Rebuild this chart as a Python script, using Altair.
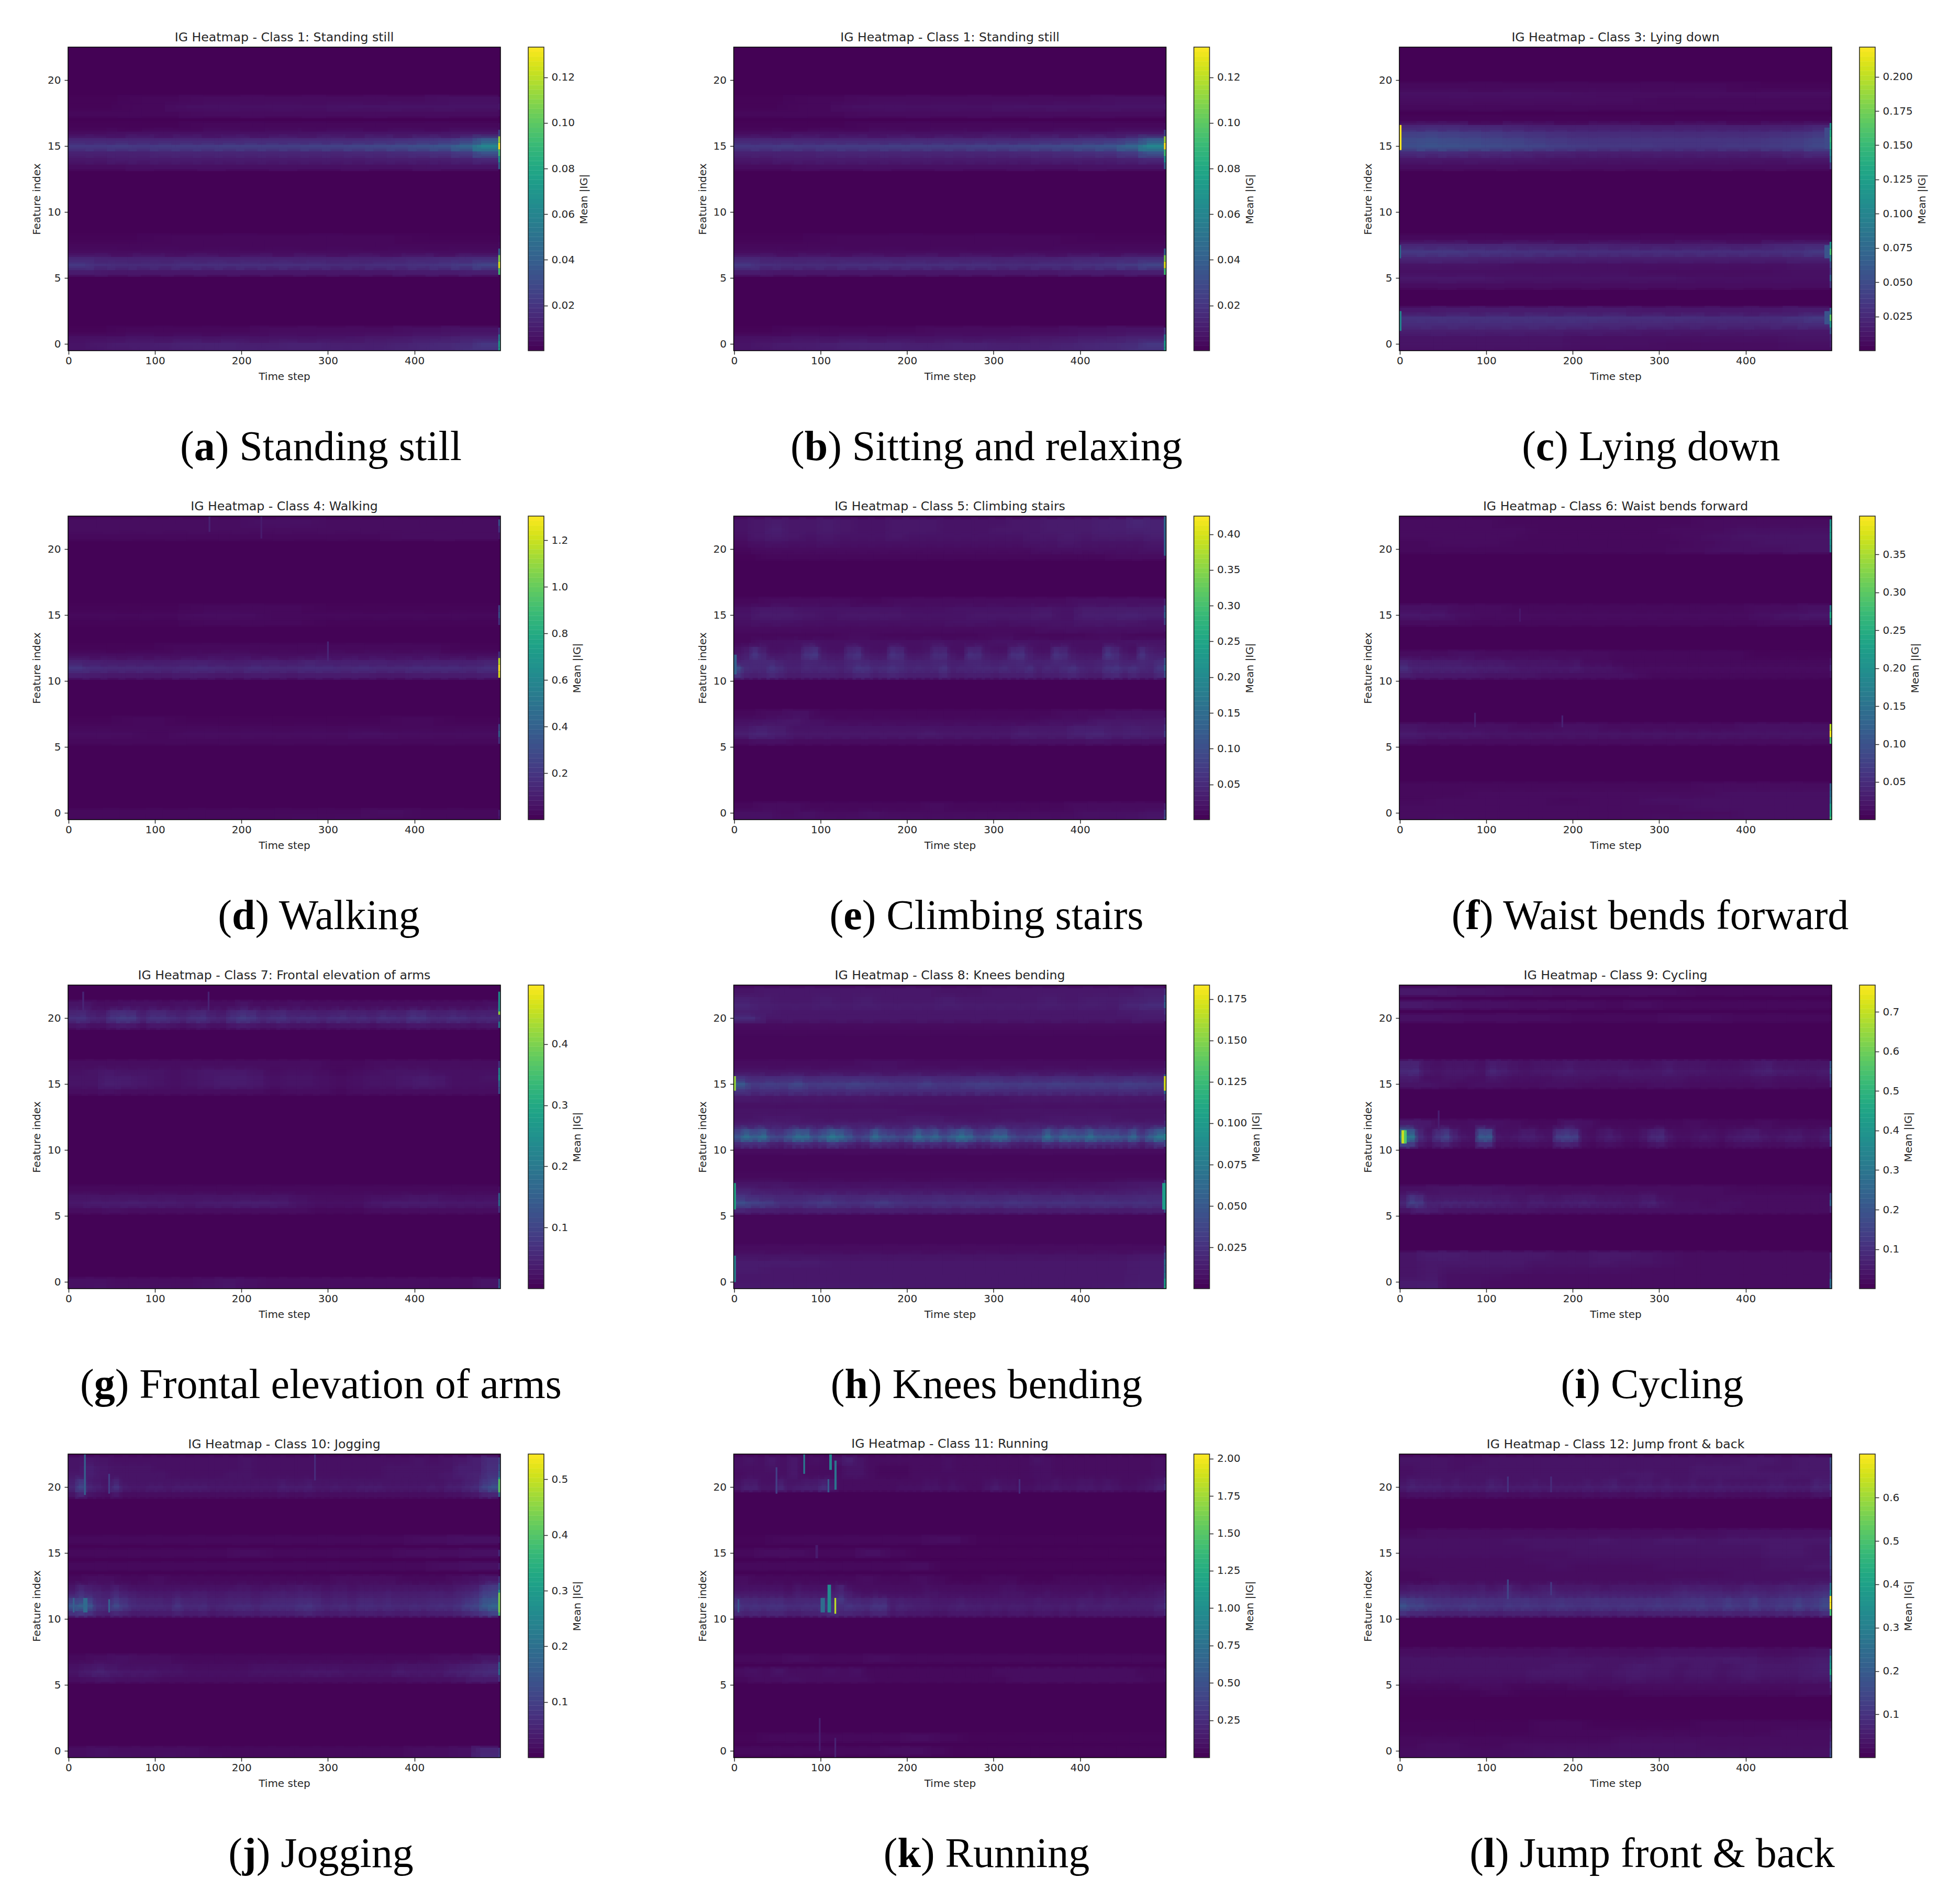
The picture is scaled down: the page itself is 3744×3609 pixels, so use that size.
import numpy as np
import altair as alt

PLOT_W, PLOT_H = 826, 580
CB_X0, CB_X1 = 879, 909
CAP_CENTER, CAP_BASE, CAP_SIZE = 483, 788.5, 80
BOLD_W = dict(a=.5, b=.556, c=.444, d=.556, e=.444, f=.333, g=.5, h=.556, i=.278, j=.333, k=.556, l=.278)
ROMAN_W = {" ": .25, ")": .333, "&": .778, "S": .556, "W": .944, "L": .611, "C": .667, "F": .556, "K": .722, "J": .389, "R": .667,
           "a": .444, "b": .5, "c": .444, "d": .5, "e": .444, "f": .333, "g": .5, "h": .5, "i": .278, "j": .278, "k": .5, "l": .278,
           "m": .778, "n": .5, "o": .5, "p": .5, "r": .333, "s": .389, "t": .278, "u": .5, "v": .5, "w": .722, "x": .5, "y": .5, "z": .444}

TITLES = ["IG Heatmap - Class 1: Standing still", "IG Heatmap - Class 1: Standing still", "IG Heatmap - Class 3: Lying down",
          "IG Heatmap - Class 4: Walking", "IG Heatmap - Class 5: Climbing stairs", "IG Heatmap - Class 6: Waist bends forward",
          "IG Heatmap - Class 7: Frontal elevation of arms", "IG Heatmap - Class 8: Knees bending", "IG Heatmap - Class 9: Cycling",
          "IG Heatmap - Class 10: Jogging", "IG Heatmap - Class 11: Running", "IG Heatmap - Class 12: Jump front & back"]
LETTERS = list("abcdefghijkl")
CAPTIONS = ["Standing still", "Sitting and relaxing", "Lying down", "Walking", "Climbing stairs", "Waist bends forward",
            "Frontal elevation of arms", "Knees bending", "Cycling", "Jogging", "Running", "Jump front & back"]
VMAX = [.1332, .1332, .2216, 1.304, .4253, .4005, .4964, .1834, .7678, .5455, 2.03, .7005]
VMIN = [.0002, .0002, .0001, .0003, .0007, .0003, .0002, .0001, .0002, .0002, .001, .0002]
CB_TICKS = [[.02, .04, .06, .08, .10, .12], [.02, .04, .06, .08, .10, .12],
            [.025, .05, .075, .1, .125, .15, .175, .2], [.2, .4, .6, .8, 1.0, 1.2],
            [.05, .1, .15, .2, .25, .3, .35, .4], [.05, .1, .15, .2, .25, .3, .35],
            [.1, .2, .3, .4], [.025, .05, .075, .1, .125, .15, .175],
            [.1, .2, .3, .4, .5, .6, .7], [.1, .2, .3, .4, .5],
            [.25, .5, .75, 1.0, 1.25, 1.5, 1.75, 2.0], [.1, .2, .3, .4, .5, .6]]
CB_FMT = [".2f", ".2f", ".3f", ".1f", ".2f", ".2f", ".1f", ".3f", ".1f", ".1f", ".2f", ".1f"]
BG = [.5, .5, .3, .5, .6, .5, .5, 1.5, .5, .6, .5, .6]

# Heat values, percent of each panel's maximum. Key: feature position; list: evenly spaced time
# bins over the record, the last entry being the far-right edge column.
ROWS_A = {
    15: [16,16,17,16,17,17,17,18,18,18,18,19,19,20,21,22,24,26,32,46,100],
    15.5: [10,10,10,10,10,10,10,10,11,11,11,11,11,11,12,13,14,15,18,28,85],
    14.5: [9,9,9,9,10,10,10,10,10,10,10,10,10,11,11,12,13,14,17,26,70],
    14: [6,6,7,7,7,7,7,7,7,7,7,7,7,7,8,8,8,8,9,11,50],
    13.5: [3,4,4,4,4,5,30], 16: [3,4,4,4,4,5,5,5,6,20], 16.5: [1,1,2,2,2,2,2,3],
    17.5: [2,2,3,3,3,3,3,3], 18: [1,2,4,4,4,5,5,5,6], 18.5: [1,2,3,3,3,3,4,4],
    6: [16,13,12,12,12,13,13,13,13,13,13,13,12,12,13,13,14,15,17,20,95],
    6.5: [10,9,9,9,9,9,9,9,9,9,10,11,12,80], 5.5: [7,6,6,6,6,6,6,6,6,6,7,7,8,70],
    7: [3,3,3,3,3,3,3,3,30], 7.5: [2,2,2,2,2,2,2,3], 8: [1,2,2,2,1,2],
    0: [5,6,7,7,8,9,9,9,8,8,9,9,8,8,8,9,10,11,12,16,55],
    -0.5: [5,6,7,8,9,9,9,9,9,10,11,14,55], 0.5: [4,5,5,5,5,5,6,7,9,40], 1: [1,2,2,2,3,3,3,4,5,15],
}
SPOTS_A = []
ROWS_C = {
    15: [23,25,24,23,22,21,20,18,17,16,16,16,15,15,15,16,16,17,18,21,60],
    15.5: [22,23,22,21,20,19,17,16,15,15,15,15,15,15,15,15,15,16,17,20,65],
    16: [18,19,18,17,16,15,14,13,12,12,12,12,12,12,12,12,12,13,14,16,60],
    16.5: [10,11,11,10,10,9,8,8,8,8,8,8,8,8,8,8,8,8,8,10,50],
    14.5: [12,12,12,11,11,10,9,9,8,8,8,8,8,8,8,8,8,9,10,12,45],
    14: [6,6,6,6,5,5,5,5,5,5,5,6,35], 13.5: [3,3,3,3,3,3,3,3,15], 17: [1,1,1,1,1,2],
    18.5: [3,3,3,3,2,2,2,2], 19: [4,4,4,3,3,3,3,3], 18: [2,2,2,2,2,2], 19.5: [2,2,2,2,1,1],
    7: [16,16,16,15,15,14,14,14,13,13,13,13,13,13,13,13,13,13,14,16,70],
    7.5: [10,10,10,10,9,9,9,8,8,8,8,8,10,11,50], 6.5: [10,10,9,9,8,8,8,8,8,8,8,9,40],
    6: [5,5,5,4,4,4,4,4,4,4,4,5,20], 5.5: [4,4,4,4,4,3,3,3,4,15], 5: [6,6,5,5,5,5,4,4,4,30],
    4.5: [3,3,3,3,3,3,3,3,3,15], 8: [2,2,2,2,2,2],
    2: [14,14,14,14,14,14,14,14,14,14,13,13,13,13,12,12,12,12,14,16,75],
    1.5: [12,12,12,12,12,12,12,11,11,11,10,10,10,10,11,12,50], 2.5: [6,7,7,7,7,7,6,6,6,6,7,35],
    1: [8,8,8,8,7,7,6,6,6,6,6,25], 0.5: [5,5,5,5,4,4,4,4,4,5,10], 0: [5,5,5,5,4,4,3,3,3,4,8],
    -0.5: [4,4,4,4,3,3,3,3,3,3,5],
}
SPOTS_C = [(-0.5, 2, 14.7, 16.6, 100), (-0.5, 2, 1, 2.5, 45), (-0.5, 1.5, 6.5, 7.5, 35),
           (491, 497, 6.5, 7.5, 26), (491, 497, 1.5, 2.5, 26), (491, 497, 14.8, 16.4, 22)]
ROWS_D = {
    11: [15,12,11,11,11,10,11,12,11,10,12,11,11,12,12,11,12,11,11,12,12,12,11,13,100],
    11.5: [9,8,7,7,7,7,8,8,7,7,8,8,7,9,8,8,8,8,7,8,8,8,8,9,90],
    10.5: [8,7,6,6,6,6,7,7,6,6,7,7,6,7,7,7,7,6,6,7,7,7,7,8,95],
    12: [3,3,3,3,3,4,4,3,3,4,4,4,4,4,3,3,15], 12.5: [1,1,2,2,2,2,2,2,1,1],
    15: [2,2,2,3,3,2,2,2,2,2,2,25], 15.5: [1,1,2,2,1,1,1,20], 14.5: [1,1,2,2,1,1,1,15],
    6: [3,3,2,3,3,3,3,3,4,3,3,3,30], 6.5: [2,2,2,2,2,2,2,2,20], 5.5: [2,2,2,2,2,2,2,2,15], 7: [1,2,1,1,1,1,2,1,3],
    22: [3,3,3,3,3,4,4,3,3,3,3,3,25], 21.5: [3,3,3,3,3,3,3,3,3,3,15], 21: [2,2,2,2,2,2,3,3,5],
    0: [2,2,2,2,2,2,2,3,2,2,8], -0.5: [2,2,2,2,2,3,3,2,2,2,6],
}
SPOTS_D = [(162, 164, 21.3, 22.5, 9), (222, 224, 20.8, 22.5, 7), (299, 301, 11.5, 13, 10)]
ROWS_E = {
    12: [6,8,15,10,6,6,7,7,14,16,7,6,6,12,14,7,6,6,14,12,6,6,7,12,12,6,5,13,12,7,6,6,13,14,8,6,6,14,12,7,6,6,6,16,12,7,6,14,9,8,10],
    12.5: [4,6,11,7,4,4,5,5,10,12,5,4,4,9,10,5,4,4,10,9,4,4,5,9,9,4,4,9,9,5,4,4,9,10,6,4,4,10,9,5,4,4,4,12,9,5,4,10,7,6,7],
    11.5: [9,10,11,11,11,9,8,8,10,10,9,8,8,10,11,10,9,9,11,11,9,9,9,10,10,8,8,10,10,9,8,9,10,11,9,9,9,11,10,9,8,8,9,11,11,9,9,11,10,12,25],
    11: [22,12,11,11,15,12,9,9,11,10,11,10,9,11,15,14,11,12,14,12,10,11,10,11,14,9,10,10,11,11,10,12,10,11,13,9,11,10,12,14,10,9,10,14,15,12,14,11,10,15,33],
    10.5: [14,9,8,9,11,9,7,7,8,8,8,8,7,8,10,10,8,9,10,9,8,8,8,8,10,7,7,8,8,8,7,8,8,8,9,7,8,8,9,10,8,7,7,10,11,8,10,8,8,11,24],
    13: [2,4,4,5,4,4,4,4,4,5,4,4,5,5,4,4,4,4,5,5,6], 13.5: [2,2,2,3,2,2,2,3,2,2,3,2,3],
    15: [5,7,7,6,5,6,6,6,5,5,5,6,6,6,7,5,8,8,9,8,30], 15.5: [4,6,6,5,5,5,5,5,4,4,5,5,5,5,6,5,7,7,7,7,25],
    14.5: [4,5,5,4,4,4,4,4,4,4,5,5,4,5,5,5,6,6,6,5,20], 14: [3,3,3,3,3,3,3,3,3,3,4,4,4,4,6], 16: [2,3,3,3,2,3,3,3,3,3,3,4,4,4,10],
    6: [8,10,8,6,6,6,6,6,6,6,7,6,6,6,6,8,7,7,9,10,8,9,8,18],
    6.5: [6,8,7,5,5,5,5,5,5,5,5,5,5,5,5,6,6,6,8,8,7,8,7,14], 5.5: [3,4,4,3,3,3,3,3,3,3,3,3,3,3,3,4,4,4,4,5,4,4,4,6],
    7: [4,5,6,4,3,3,3,3,3,3,3,3,3,4,4,6,6,6,9], 7.5: [2,3,4,2,2,2,2,2,2,2,2,2,3,3,4,4,4],
    22: [5,6,7,6,6,7,6,5,5,6,6,6,5,5,5,5,6,6,7,7,7,8,8,10,9,45],
    21.5: [5,6,8,6,6,7,6,5,5,6,6,6,5,5,5,6,6,6,7,7,7,8,8,9,9,40],
    21: [4,6,7,6,5,6,5,5,5,6,5,5,5,5,5,5,5,6,6,7,6,7,7,7,8,25],
    20.5: [3,4,5,4,4,5,4,4,4,4,4,4,4,4,4,4,4,5,5,6,5,5,5,5,6,18], 20: [2,3,3,3,3,3,3,3,3,3,3,3,3,3,4,4,4,4,4,5,12],
    19.5: [1,2,2,2,2,2,2,2,2,2,2,2,2,2,3,3,6],
    0: [4,4,3,4,3,3,4,3,3,3,3,3,3,3,3,3,4,4,4,5,18], -0.5: [4,5,4,4,4,4,4,4,4,4,4,4,4,4,4,4,4,4,5,6,25],
    0.5: [2,3,3,2,2,2,2,2,3,2,2,2,2,2,3,3,3,3,8],
}
SPOTS_E = [(497, 499.5, 19.5, 22.5, 32), (-0.5, 3, 10.5, 12, 30)]
ROWS_F = {
    11: [13,9,9,9,9,9,9,8,8,8,7,6,6,6,6,6,7,5,5,5,4,3,3,3,3,3,3,3,3,3,3,3,3,3,3,3,3,3,3,3,10],
    11.5: [9,7,7,7,7,7,6,6,6,6,5,5,5,5,5,4,5,3,3,3,2,2,2,2,2,2,2,2,2,2,2,2,2,2,2,2,2,2,2,2,6],
    10.5: [8,6,6,6,6,6,5,5,5,5,4,4,4,4,4,4,4,3,2,2,2,2,2,2,2,2,2,2,2,2,2,5],
    12: [3,3,4,3,3,3,3,3,2,2,2,2,2,1,1,1,2], 6: [7,6,6,6,5,5,5,5,5,5,5,5,5,5,5,5,5,5,5,5,100],
    6.5: [5,4,4,4,4,3,3,4,4,3,3,3,3,3,3,4,4,4,4,90], 5.5: [4,3,3,3,3,3,3,3,3,3,3,3,3,3,3,3,3,3,3,70],
    15: [6,6,4,3,3,3,3,3,3,3,3,3,3,3,4,5,6,60], 15.5: [4,4,3,3,2,2,2,2,2,2,2,2,2,3,3,4,40], 14.5: [3,3,2,2,2,2,2,2,2,2,2,3,3,40],
    21: [3,3,3,3,2,2,2,2,2,3,4,5,5,5,55], 22: [3,3,3,2,2,2,2,2,2,3,3,3,3,50], 20: [2,2,2,2,2,2,2,3,4,4,5,45],
    21.5: [3,3,3,3,2,2,2,2,3,3,4,4,4,55], 20.5: [2,3,3,2,2,2,2,2,3,4,5,5,50],
    1: [2,3,3,3,3,2,3,3,4,4,4,4,4,4,40], 2: [2,2,2,2,2,2,2,2,2,3,3,3,3,30], 0: [3,3,3,3,3,3,3,3,3,3,3,4,4,4,60], -0.5: [3,4,3,3,3,3,3,4,4,4,4,4,70],
    0.5: [3,3,3,3,3,3,3,3,4,4,4,4,55], 1.5: [2,2,3,3,3,3,3,3,3,4,4,4,35],
}
SPOTS_F = [(86, 88, 6.5, 7.6, 8), (187, 189, 6.5, 7.4, 9), (138, 140, 14.5, 15.5, 6)]
ROWS_G = {
    20: [13,14,10,9,15,17,16,10,14,14,12,10,13,14,10,9,14,17,15,11,13,14,11,12,12,10,12,13,11,12,10,13,12,11,15,14,11,11,13,12,10,11,11,14],
    20.5: [9,10,7,6,11,12,11,7,10,10,8,7,9,10,7,6,10,12,11,8,9,10,8,8,8,7,8,9,8,8,7,9,8,8,11,10,8,8,9,8,7,8,8,85],
    19.5: [5,6,4,4,6,7,6,4,6,6,5,4,5,6,4,4,6,7,6,5,5,6,5,5,5,4,5,5,5,5,4,5,5,5,6,6,5,5,5,5,4,5,5,40],
    21: [5,5,3,3,4,4,4,3,4,4,3,3,3,5,3,3,3,4,3,3,3,3,3,3,3,3,3,3,3,3,3,3,4,30],
    15: [5,5,8,7,6,5,4,5,6,7,7,6,4,5,5,4,3,4,5,5,6,7,6,4,4,4,30], 15.5: [5,5,7,7,6,5,4,5,6,7,7,6,4,5,5,4,3,4,5,5,6,7,6,4,4,5,50],
    16: [4,5,6,5,5,5,4,5,6,6,6,5,3,4,4,3,2,3,4,5,5,5,4,4,4,4,45], 14.5: [3,3,4,3,3,3,3,3,3,3,3,3,2,3,3,3,2,3,3,3,3,3,3,3,3,3,25],
    16.5: [3,3,3,3,3,3,3,3,3,3,3,3,2,2,3,3,3,3,3,3,15],
    6: [6,7,7,8,7,7,6,7,7,8,8,7,5,4,4,4,6,7,7,7,6,6,6,35], 6.5: [5,5,5,5,5,5,5,5,5,5,5,5,4,3,3,3,4,4,5,5,4,4,4,30],
    5.5: [3,3,4,3,3,3,3,3,3,3,3,3,3,2,2,2,3,3,3,3,3,3,3,15], 7: [2,2,2,2,2,2,2,2,2,2,2,4],
    0: [4,4,3,3,3,3,4,5,4,3,3,3,3,3,3,3,3,3,3,5,25], -0.5: [4,5,4,4,4,4,5,6,4,3,3,3,3,3,3,3,3,3,3,5,30],
}
SPOTS_G = [(16, 18, 20.5, 22, 10), (161, 163, 20.5, 22, 9), (497, 499.5, 20.5, 22, 50)]
ROWS_H = {
    11: [26,36,30,36,22,20,27,36,34,24,30,40,34,26,18,22,35,26,24,20,24,35,28,33,24,30,38,32,22,24,33,33,22,18,20,22,36,26,33,30,28,36,28,28,28,24,33,20,30,40,45],
    11.5: [17,24,20,24,14,13,18,24,23,15,20,27,23,17,12,14,24,17,15,13,15,24,18,22,15,20,26,21,14,15,22,22,14,12,13,14,24,17,22,20,18,24,18,18,18,15,22,13,20,27,30],
    10.5: [11,14,13,14,9,8,11,14,13,10,12,16,13,11,8,9,14,11,10,8,10,14,12,13,10,12,15,12,9,10,13,13,9,8,8,9,14,11,13,12,11,14,12,12,12,10,13,8,12,16,22],
    12: [7,8,8,7,7,7,8,8,8,7,8,8,8,7,7,8,8,8,7,7,7,8,8,8,7,12], 12.5: [5,6,6,5,5,5,5,6,6,5,5,5,5,6,6,6,5,5,8], 13: [5,5,5,5,4,4,5,5,5,5,6], 13.5: [4,4,4,4,4,4,4,4,5],
    10: [3,3,3,3,3,3,3,4],
    15: [27,16,18,17,21,16,17,17,19,17,16,15,15,18,15,15,17,18,17,16,17,16,18,17,16,17,16,18,17,16,50],
    15.5: [14,11,12,12,13,11,12,12,12,12,11,11,11,12,11,11,12,12,12,11,12,11,12,12,11,12,11,12,12,11,30],
    14.5: [15,12,13,12,14,12,12,12,13,12,12,12,12,12,12,12,12,13,12,12,12,12,12,12,12,12,12,13,12,12,35],
    14: [7,6,6,6,6,6,6,5,5,5,5,5,5,6,6,6,6,6,6,6,15], 13.8: [5,5,5,5,5,5,5,5,5,5,6], 16: [5,5,5,5,5,5,5,5,5,5,5,8], 16.5: [3,3,3,4,3,3,3,3,3,3,5],
    6: [23,19,17,13,13,15,17,14,13,15,17,14,13,13,14,13,14,14,13,15,14,13,14,14,13,14,14,13,14,13,40],
    6.5: [15,12,11,10,10,11,12,11,10,11,11,11,10,10,11,10,11,10,10,11,11,10,10,11,10,11,10,10,11,11,45],
    5.5: [10,8,8,7,7,8,8,8,7,8,8,8,7,7,8,7,8,7,7,8,8,7,7,8,7,8,7,7,8,8,25],
    7: [9,7,7,6,6,6,6,6,6,6,6,6,6,6,6,6,6,6,7,8,30], 7.5: [5,5,4,4,4,4,4,4,4,4,4,4,5,6,20], 8: [2,2,2,2,2,2,2,2],
    21: [10,8,7,7,8,7,8,7,7,7,8,7,7,7,7,8,7,8,7,10,12,30], 21.5: [8,7,6,6,7,6,7,6,6,6,7,6,6,6,6,7,6,7,7,8,9,25],
    20.5: [8,7,6,6,6,6,6,6,6,6,6,6,6,6,6,6,6,6,7,8,15], 20: [12,6,6,6,6,6,6,6,6,6,6,6,6,6,6,7,10], 22: [5,6,6,6,6,6,6,6,5,5,6,6,6,6,6,6,8,14],
    19.5: [3,3,3,3,3,3,3,3,3,3,3], 19: [2,2,2,2,2,2,2,2],
    2: [5,5,5,5,5,5,5,5,5,5,5,5,5,6,22], 2.5: [3,3,3,3,3,3,3,3,3,3,3,12], 1.5: [7,7,7,6,6,6,6,6,6,6,6,6,6,7,35], 1: [7,6,6,6,6,6,6,6,6,6,6,6,6,7,35],
    0.5: [6,6,6,6,6,6,6,6,6,6,6,6,7,40], 0: [6,6,6,6,6,6,6,6,6,6,6,6,7,55], -0.5: [7,7,7,7,7,6,6,6,6,6,6,7,8,60],
}
SPOTS_H = [(-0.5, 2, 14.5, 15.6, 85), (497, 499.5, 14.5, 15.6, 95), (-0.5, 2, 5.5, 7.5, 60), (495, 499.5, 5.5, 7.5, 55), (-0.5, 2, 0, 2, 45)]
ROWS_I = {
    11: [45,38,12,7,15,20,10,6,5,28,28,6,5,6,8,8,6,5,18,20,18,5,4,6,8,6,4,4,6,11,12,6,4,4,5,6,5,4,6,7,8,8,6,5,6,7,7,5,5,7,30],
    11.5: [30,26,9,5,11,14,7,4,4,20,20,4,4,4,6,6,4,4,12,14,12,4,3,5,6,4,3,3,5,8,9,4,3,3,4,4,4,3,4,5,6,6,4,4,4,5,5,4,4,5,25],
    10.5: [20,17,6,4,7,9,5,3,3,12,12,3,3,3,4,4,3,3,8,9,8,3,2,3,4,3,2,2,3,5,6,3,2,2,3,3,3,2,3,4,4,4,3,3,3,4,4,3,3,4,20],
    12: [7,6,3,3,4,4,3,2,2,5,4,2,2,2,2,2,3,2,2,2,3,2,2,2,3],
    16: [11,12,6,5,6,6,6,5,10,8,6,5,6,6,7,8,6,6,6,6,7,6,6,6,8,6,6,6,5,5,5,6,8,9,7,7,6,6,7,30],
    16.5: [9,9,5,4,5,5,5,4,7,6,5,4,5,5,5,6,5,5,5,5,5,4,4,5,6,5,5,5,4,4,4,5,6,7,5,5,5,5,5,25],
    15.5: [7,7,4,4,5,5,4,4,6,5,4,4,4,4,5,5,5,5,4,4,5,5,5,5,5,5,4,4,4,4,4,4,5,5,4,4,4,4,5,20],
    15: [5,5,4,3,4,4,3,3,4,4,3,3,3,3,4,4,3,3,3,3,4,3,3,3,12],
    6: [10,19,16,9,9,10,10,9,10,9,9,8,8,7,6,8,8,7,7,8,8,9,8,7,7,7,6,6,8,9,6,5,4,4,4,3,3,4,4,4,3,3,3,3,3,3,3,3,3,3,30],
    6.5: [7,14,11,6,6,6,6,6,6,6,6,6,6,5,5,6,6,5,5,6,6,6,6,5,5,5,5,5,6,6,4,4,3,3,3,3,3,3,3,3,3,3,3,3,3,3,3,3,3,3,20],
    5.5: [5,8,7,5,5,5,5,5,5,5,4,4,4,4,4,4,4,4,4,4,4,4,4,4,3,3,3,3,3,3,3,10], 7: [4,5,5,4,3,3,3,3,3,3,2,2,2,2],
    2: [5,7,7,6,6,6,6,5,5,6,6,5,4,3,3,3,3,3,3,3,12], 1.5: [5,6,6,6,6,6,5,5,5,6,5,5,4,3,3,3,3,3,3,3,10], 1: [5,6,5,5,5,5,4,4,4,4,4,3,3,3,3,3,3,3,3,3,10],
    0.5: [5,6,4,4,4,3,3,3,3,3,3,3,3,3,3,3,3,3,3,3,18], 0: [7,7,4,4,3,3,3,3,3,3,3,3,3,3,3,3,3,3,3,3,35], -0.5: [7,8,4,4,3,3,3,3,3,3,3,3,3,3,3,3,3,3,3,3,35],
    21: [6,5,4,4,3,3,3,2,3,2,2,2,2,2,2,2], 22: [6,5,4,3,3,3,2,2,2,2], 20: [4,3,3,2,2,3,2,2,2],
}
SPOTS_I = [(2, 6, 10.5, 11.5, 92), (5, 8, 10.5, 11.5, 72), (44, 46, 11.5, 13, 8)]
ROWS_J = {
    11: [26,30,26,14,12,22,16,12,11,11,11,10,15,11,11,12,9,10,11,12,12,10,12,12,12,12,14,15,12,10,11,12,10,12,12,11,12,11,11,12,11,12,13,12,14,18,20,28,32,80],
    11.5: [18,20,18,11,10,16,13,10,9,9,9,8,11,9,9,9,8,8,9,9,9,8,9,10,10,10,11,11,10,8,9,9,8,10,10,9,10,9,9,9,9,10,10,10,11,14,16,24,26,75],
    10.5: [14,16,14,9,8,11,9,7,7,7,7,7,9,7,7,8,6,7,7,8,8,7,8,8,8,8,9,10,8,7,7,8,7,8,8,7,8,7,7,8,7,8,8,8,9,11,13,16,20,70],
    12: [8,13,10,9,8,11,8,7,6,6,6,6,7,6,7,7,6,6,7,7,7,6,7,7,8,7,8,8,7,6,7,7,6,7,7,7,8,7,7,7,7,8,8,7,9,10,12,18,20,50],
    12.5: [5,9,7,6,5,7,5,4,4,4,4,4,4,4,4,4,4,4,4,5,5,4,4,5,5,5,6,5,5,4,5,5,4,5,5,5,5,5,5,5,5,5,5,5,6,7,8,14,16,30],
    13: [2,3,3,2,2,3,2,2,2,2,2,2,2,2,2,2,3,3,3,3,2,2,2,3,4,6,15], 14: [2,2,2,2,2,2,2,2,2,2,2,3,4,8], 15: [2,2,2,2,2,3,2,2,2,2,3,3,4,12],
    16: [2,2,2,2,2,2,2,2,3,4,5], 20: [10,20,10,8,6,14,7,6,6,7,7,6,7,7,7,7,6,6,6,6,6,6,6,6,8,7,7,8,6,6,7,6,6,7,7,7,6,6,6,6,6,7,6,8,8,10,12,20,25,75],
    20.5: [8,15,7,6,5,9,5,5,5,5,5,5,5,5,5,5,5,5,5,5,5,5,5,5,6,5,5,6,5,5,5,5,5,5,5,5,5,5,5,5,5,5,5,6,6,8,9,15,18,55],
    19.5: [5,10,5,4,3,6,3,3,3,3,3,3,3,3,3,3,3,3,3,3,3,3,3,3,4,3,3,4,3,3,3,3,3,3,3,3,3,3,3,3,3,3,3,4,4,5,6,9,10,35],
    21: [6,8,6,5,5,5,5,4,4,4,4,5,5,4,4,4,4,4,4,4,4,4,5,5,5,5,6,8,9,14,30],
    21.5: [5,8,6,5,5,5,4,4,4,4,4,4,5,4,4,4,4,4,4,4,4,4,5,5,5,5,5,8,8,13,25], 22: [5,6,5,4,4,4,4,4,4,4,4,4,5,4,4,4,4,4,4,4,4,4,4,4,5,4,5,6,8,12,20],
    6: [5,7,9,7,6,6,6,5,5,4,4,4,4,4,5,5,5,5,6,6,6,5,5,5,5,7,6,6,6,8,9,11,12,35], 6.5: [4,5,6,5,4,4,4,4,4,3,3,3,3,3,4,4,4,4,4,4,4,4,4,4,4,5,5,5,5,6,7,9,10,30],
    5.5: [3,4,5,4,4,4,3,3,3,3,3,3,3,3,3,3,3,3,3,3,3,3,3,4,4,4,5,7,7,15], 7: [2,3,4,3,3,2,2,2,2,2,2,2,2,2,2,2,2,3,3,5,12],
    0: [3,4,3,3,3,3,2,2,2,2,2,2,2,2,2,3,3,4,10,15], -0.5: [3,4,4,3,4,3,3,2,2,2,2,2,2,2,2,3,3,4,12,18],
}
SPOTS_J = [(18, 20, 19.4, 22.5, 30), (46, 48, 19.5, 21, 18), (284, 286, 20.5, 22.5, 12), (46, 48, 10.5, 11.5, 30),
           (17, 22, 10.5, 11.6, 34), (5, 7, 10.5, 11.6, 30), (497, 499.5, 19.6, 20.6, 75), (497, 499.5, 10.5, 12, 80)]
ROWS_K = {
    11: [16,13,14,13,14,14,12,12,13,13,14,15,13,15,13,12,15,15,8,10,9,8,8,7,7,8,9,8,8,7,8,7,8,8,7,8,8,7,8,7,9,8,8,9,8,8,8,8,8,10,15],
    11.5: [12,11,11,10,11,11,9,10,10,10,11,12,16,10,10,9,11,11,7,8,7,7,7,6,6,6,7,6,6,6,6,6,6,6,6,7,6,6,6,6,7,7,6,7,7,6,7,7,7,8,12],
    10.5: [11,9,10,9,10,10,8,8,9,9,10,13,10,10,9,8,10,10,6,7,6,6,6,5,5,6,6,6,6,5,6,5,6,6,5,6,6,5,6,5,6,6,6,6,6,6,6,6,6,7,11],
    12: [6,6,6,6,6,6,5,7,6,6,6,8,10,7,5,4,5,4,4,4,4,4,5,5,4,4,4,4,4,4,4,5,5,5,4,4,5,4,4,4,4,5,4,5,4,5,4,5,5,6,10],
    12.5: [4,4,4,4,4,4,3,5,4,4,4,5,9,4,3,3,3,3,3,3,3,3,4,3,3,3,3,3,3,3,3,4,4,3,3,3,3,3,3,3,3,3,3,4,3,3,3,3,4,4,6],
    13: [3,2,2,2,2,2,2,3,2,2,3,2,1,1,2,2,1,1,2,2,2,2,2,2,3], 15: [2,3,3,2,2,4,2,1,1,1,1,1,1,1,1,1,1,2], 14: [2,2,2,2,2,2,3,1,1,1,1,1,1,1,1,2],
    16: [1,2,2,2,2,3,1,1,1,1,1,1], 20: [5,8,8,5,5,10,6,7,8,8,12,7,3,3,3,3,3,3,3,4,4,4,5,5,4,5,4,3,3,5,7,5,5,4,4,5,5,6,5,5,6,6,5,6,5,4,4,5,6,8,15],
    20.5: [4,6,6,4,4,7,5,5,6,6,8,6,3,3,3,3,3,3,3,3,3,3,4,4,3,4,3,3,3,4,5,4,4,3,3,4,4,5,4,4,5,5,4,5,4,3,3,4,5,6,10],
    21: [3,4,4,4,4,6,3,3,3,3,5,5,3,2,2,2,3,3,3,3,3,3,3,3,3,3,3,4,4,3,3,3,3,3,3,3,3,3,4,5],
    21.5: [4,4,4,5,4,6,3,3,3,3,5,5,3,2,2,2,3,3,3,4,3,3,3,3,3,3,3,4,4,3,3,3,3,3,3,3,3,3,4,4], 22: [4,5,4,6,4,6,3,4,3,5,8,5,3,3,3,3,3,3,3,4,3,3,3,3,3,3,3,5,4,3,3,3,3,3,3,3,3,3,4,4],
    6: [3,4,3,5,3,3,3,4,3,4,2,2,2,2,2,2,2,2,2,2,3,3,3,3,3,3,3,3,3,3,3,2,2,4], 7: [2,2,3,2,2,3,2,2,2,2,2,2,2,2,2,2,2], 5.5: [2,3,3,4,3,3,3,3,2,2,2,2,2,2,2,2,3,3,3,3,3,3,3,3,2,3],
    0: [2,2,2,2,2,2,2,3,3,2,1,1,1,1,1,1,1,1,1,1,2], 1: [1,2,2,2,2,2,3,2,1,1,1,1,1,1,1,1],
}
SPOTS_K = [(80, 82, 21, 22.5, 40), (110, 113, 21.3, 22.5, 45), (116, 118.5, 19.8, 22, 38), (116, 118, 10.4, 11.6, 90),
           (108, 112, 10.5, 12.6, 48), (100, 105, 10.5, 11.6, 35), (4, 6, 10.5, 11.5, 25), (48, 50, 19.5, 21.5, 18),
           (108, 110, 19.6, 20.6, 28), (98, 100, 0, 2.5, 8), (116, 118, -0.5, 1, 9), (329, 331, 19.5, 20.6, 12), (94, 97, 14.6, 15.6, 7)]
ROWS_L = {
    11: [25,20,20,17,16,15,15,16,17,15,15,14,16,15,16,15,14,15,16,15,14,14,15,15,14,15,15,14,15,16,15,15,16,16,17,15,15,18,16,15,18,15,15,17,16,20,16,18,22,100],
    11.5: [18,17,16,14,13,13,13,13,14,13,13,13,14,14,14,13,12,13,14,13,13,13,14,13,13,13,13,13,13,14,13,13,14,15,15,13,14,16,14,14,17,13,14,15,15,17,15,16,20,100],
    10.5: [14,11,11,10,9,9,9,9,10,9,9,8,9,9,9,9,8,9,9,9,8,8,9,9,8,9,9,8,9,9,9,9,9,9,10,9,9,10,9,9,10,9,9,10,9,11,9,10,13,70],
    12: [8,9,9,9,9,9,8,8,8,9,8,9,11,9,8,8,9,10,8,8,8,9,8,8,8,8,8,8,8,8,8,10,11,10,10,10,10,9,9,11,10,10,9,10,11,11,11,13,14,50],
    12.5: [5,6,6,6,7,7,6,6,6,7,5,6,9,6,5,6,7,7,6,6,6,6,6,5,6,6,6,6,6,6,6,7,8,7,8,7,7,6,6,8,8,7,7,8,9,8,8,9,10,35],
    13: [2,2,3,3,3,3,3,3,3,3,3,3,3,3,3,4,4,4,4,4,4,4,5,5,12], 14: [3,3,3,3,3,3,3,4,3,3,3,3,4,4,4,4,4,5,5,6,20], 15: [4,4,4,4,4,4,4,4,5,5,5,5,5,5,5,5,5,6,6,5,25],
    16: [4,4,4,4,4,5,5,5,5,6,5,5,6,6,5,6,6,6,6,6,18], 15.5: [4,4,4,4,4,4,5,5,5,5,5,5,5,5,5,5,5,6,6,5,22], 14.5: [3,3,3,3,3,3,4,4,4,4,4,4,4,4,4,4,4,5,5,5,20],
    16.5: [2,3,3,3,3,3,3,3,3,3,3,3,3,3,3,4,4,4,4,4,10], 13.5: [2,3,3,3,3,3,3,3,3,3,3,3,3,4,4,4,4,15],
    20: [7,9,8,8,8,7,8,7,7,7,9,8,7,7,7,8,7,7,7,7,7,8,7,8,9,7,7,8,8,7,8,7,7,8,7,7,8,7,7,7,7,7,8,8,7,7,7,10,9,20],
    20.5: [5,7,6,6,6,5,6,5,5,5,7,6,5,5,5,6,5,5,5,5,5,6,5,6,7,5,5,6,6,5,6,5,5,6,5,5,6,5,5,5,5,5,6,6,5,5,5,8,7,15],
    19.5: [3,4,4,4,4,3,4,3,3,3,4,4,3,3,3,4,3,3,3,3,3,4,3,4,4,3,3,4,4,3,4,3,3,4,3,3,4,3,3,3,3,3,4,4,3,3,3,5,5,10],
    21: [4,5,5,5,5,5,5,5,5,5,5,5,5,6,6,5,5,6,6,6,6,6,6,6,6,15], 21.5: [4,5,5,4,5,5,5,5,5,5,5,5,5,5,5,5,5,6,6,6,6,5,5,6,6,20], 22: [5,5,5,4,4,5,5,5,5,5,5,5,5,5,5,5,5,5,5,5,6,6,5,6,6,25],
    7: [5,5,5,5,5,5,5,5,5,5,5,5,5,5,5,6,6,6,6,7,6,5,5,6,7,45], 7.5: [3,3,3,3,3,3,3,3,3,4,3,3,3,3,3,4,4,4,4,4,4,3,3,4,5,25],
    6.5: [5,5,5,5,5,5,5,5,5,5,5,6,6,6,5,5,6,7,6,6,5,6,6,5,6,7,6,6,6,7,8,50], 6: [5,5,5,5,5,5,5,5,5,6,6,6,6,5,5,6,7,6,6,5,6,6,5,6,7,6,6,6,7,8,60],
    5.5: [4,4,4,4,4,4,4,4,4,5,5,5,5,4,4,5,6,5,5,4,5,5,4,5,6,5,5,5,6,6,30], 5: [2,2,2,3,3,2,2,2,3,3,3,3,3,3,3,3,3,3,3,3,12], 4.5: [1,1,1,2,1,1,1,1,2,2,2,2,2,2,3,6],
    0: [3,3,3,3,3,3,4,4,4,4,4,4,4,4,4,4,4,4,4,4,20], -0.5: [3,4,4,3,3,4,4,5,5,5,5,5,5,5,5,5,4,4,4,4,25], 0.5: [2,3,3,2,2,3,3,3,3,3,4,4,4,4,3,3,3,3,3,3,15], 1: [2,2,2,2,2,2,2,2,2,2,3,3,3,3,3,3,3,3,3,3,10],
    1.5: [1,1,1,1,1,2,2,2,2,2,2,2,2,2,3,3,8], 2: [1,1,1,1,1,2,2,1,1,1,1,2,2,2,2,2,5],
}
SPOTS_L = [(124, 126, 19.6, 20.8, 14), (124, 126, 11.5, 13, 20), (174, 176, 19.6, 20.8, 12), (174, 176, 11.8, 12.8, 16)]

ALL_ROWS = [ROWS_A, ROWS_A, ROWS_C, ROWS_D, ROWS_E, ROWS_F, ROWS_G, ROWS_H, ROWS_I, ROWS_J, ROWS_K, ROWS_L]
ALL_SPOTS = [SPOTS_A, SPOTS_A, SPOTS_C, SPOTS_D, SPOTS_E, SPOTS_F, SPOTS_G, SPOTS_H, SPOTS_I, SPOTS_J, SPOTS_K, SPOTS_L]

FONT = "DejaVu Sans"
SERIF = "Liberation Serif"
INK = "#262626"


def cells(rows, spots, bg):
    """One opaque pass, then a half-transparent, slightly larger pass of the same cells that softens the steps."""
    out = [dict(t0=-0.5, t1=499.5, y0=-0.5, y1=22.5, p=bg, o=1)]
    soft, edges = [], []
    for y in sorted(rows):
        vals = rows[y]
        w = 497.5 / (len(vals) - 1)
        for i, p in enumerate(vals[:-1]):
            t0, t1 = -0.5 + i * w, -0.5 + (i + 1) * w
            out.append(dict(t0=t0, t1=t1, y0=y - 0.25, y1=y + 0.25, p=p, o=1))
            soft.append(dict(t0=t0 - w * .2, t1=min(t1 + w * .2, 497), y0=y - 0.4, y1=y + 0.4, p=p, o=.5))
        edges.append(dict(t0=497, t1=499.5, y0=y - 0.25, y1=y + 0.25, p=vals[-1], o=1))
    spot = [dict(t0=a, t1=b, y0=c, y1=d, p=p, o=1) for a, b, c, d, p in spots]
    return out + soft + edges + spot


def text_em(s):
    return sum(ROMAN_W.get(ch, .5) for ch in s)


def panel(k):
    vmin, vmax = VMIN[k], VMAX[k]
    color = alt.Scale(scheme="viridis", domain=[vmin, vmax])
    rows = cells(ALL_ROWS[k], ALL_SPOTS[k], BG[k])
    for r in rows:
        r["v"] = max(vmin, r["p"] / 100 * vmax)
    heat = alt.Chart(alt.Data(values=rows)).mark_rect(clip=True, strokeWidth=0).encode(
        x=alt.X("t0:Q", title="Time step",
                scale=alt.Scale(domain=[-0.5, 499.5], nice=False, zero=False),
                axis=alt.Axis(values=[0, 100, 200, 300, 400], grid=False, domain=False, titlePadding=10,
                              labelFlush=False, labelPadding=2)),
        x2="t1:Q",
        y=alt.Y("y0:Q", title="Feature index",
                scale=alt.Scale(domain=[-0.5, 22.5], nice=False, zero=False),
                axis=alt.Axis(values=[0, 5, 10, 15, 20], grid=False, domain=False, titlePadding=10, labelFlush=False)),
        y2="y1:Q",
        color=alt.Color("v:Q", scale=color, legend=None),
        opacity=alt.Opacity("o:Q", scale=None),
    )
    levels = np.linspace(vmin, vmax, 65)
    bar = [dict(a=float(a), b=float(b), v=float((a + b) / 2)) for a, b in zip(levels[:-1], levels[1:])]
    cbar = alt.Chart(alt.Data(values=bar)).mark_rect(strokeWidth=0.4).encode(
        x=alt.value(CB_X0), x2=alt.value(CB_X1),
        y=alt.Y("a:Q", title="Mean |IG|",
                scale=alt.Scale(domain=[vmin, vmax], nice=False, zero=False),
                axis=alt.Axis(orient="right", offset=CB_X1 - PLOT_W, values=CB_TICKS[k], format=CB_FMT[k],
                              grid=False, domain=False, titleAngle=270, titlePadding=28, labelFlush=False)),
        y2="b:Q",
        color=alt.Color("v:Q", scale=color, legend=None),
        stroke=alt.Color("v:Q", scale=color, legend=None),
    )
    one = alt.Data(values=[{"a": 0}])
    frame = alt.Chart(one).mark_rect(fillOpacity=0, stroke="black", strokeWidth=1.5).encode(
        x=alt.value(0), x2=alt.value(PLOT_W), y=alt.value(0), y2=alt.value(PLOT_H))
    cframe = alt.Chart(one).mark_rect(fillOpacity=0, stroke=INK, strokeWidth=1.5).encode(
        x=alt.value(CB_X0), x2=alt.value(CB_X1), y=alt.value(0), y2=alt.value(PLOT_H))

    L, rest = LETTERS[k], ") " + CAPTIONS[k]
    lead = 0.333 * CAP_SIZE
    bold = BOLD_W[L] * CAP_SIZE
    x0 = CAP_CENTER - (lead + bold + text_em(rest) * CAP_SIZE) / 2

    def run(txt, x, weight="normal"):
        return alt.Chart(one).mark_text(text=txt, align="left", baseline="alphabetic", font=SERIF,
                                        fontSize=CAP_SIZE, fontWeight=weight, color="black").encode(
            x=alt.value(x), y=alt.value(CAP_BASE))
    caption = [run("(", x0), run(L, x0 + lead, "bold"), run(rest, x0 + lead + bold)]

    return alt.layer(heat, cbar, frame, cframe, *caption).resolve_scale(
        y="independent", color="independent", stroke="independent"
    ).properties(
        width=PLOT_W, height=PLOT_H,
        title=alt.TitleParams(TITLES[k], font=FONT, fontSize=23.6, fontWeight="normal", color=INK,
                              anchor="middle", offset=6),
    )


chart = alt.concat(*[panel(k) for k in range(12)], columns=3,
                   spacing=alt.RowColnumber(row=316, column=445.5), bounds="flush").properties(
    padding={"left": 52, "top": 51, "right": 5, "bottom": 5}, background="white"
).configure_view(stroke=None).configure_axis(
    labelFont=FONT, titleFont=FONT, labelFontSize=20, titleFontSize=20, titleFontWeight="normal",
    labelColor=INK, titleColor=INK, tickColor=INK, tickSize=7, tickWidth=1.5, labelPadding=7,
)
chart.save("out.html", embed_options={"renderer": "svg", "actions": False})
